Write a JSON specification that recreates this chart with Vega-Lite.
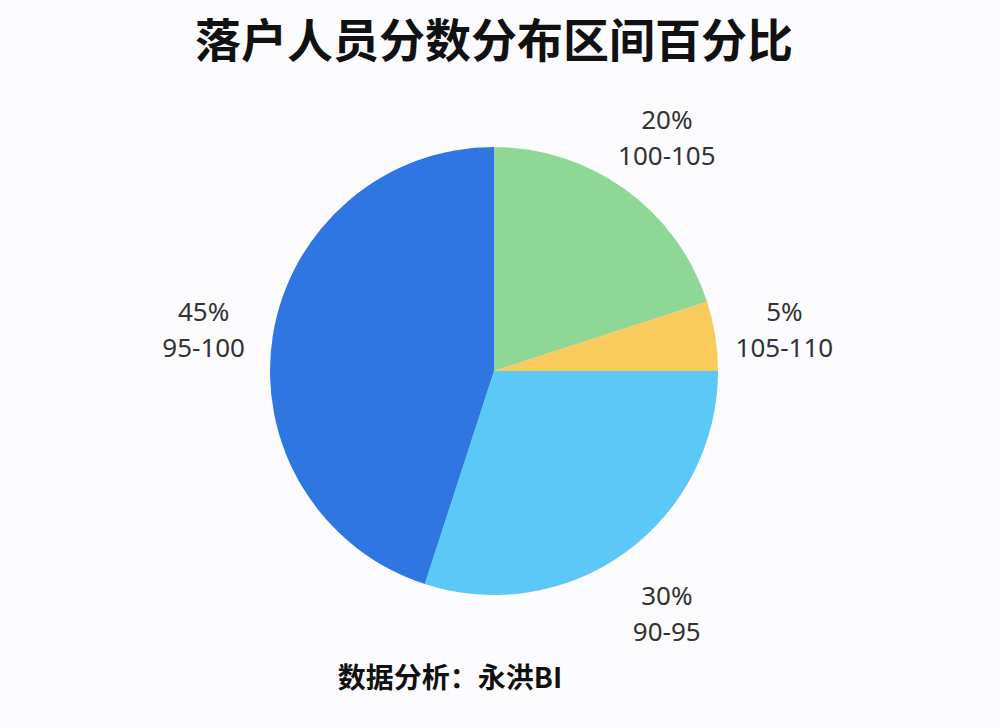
{
  "$schema": "https://vega.github.io/schema/vega-lite/v6.json",
  "background": "#FCFBFD",
  "padding": {"left": 0, "right": 12, "top": 20, "bottom": 40},
  "title": {
    "text": "落户人员分数分布区间百分比",
    "font": "Noto Sans CJK SC",
    "fontSize": 46,
    "fontWeight": "bold",
    "color": "#111111",
    "anchor": "middle",
    "offset": 24
  },
  "data": {
    "values": [
      {"range": "100-105", "pct": 20, "label": "20%\n100-105"},
      {"range": "105-110", "pct": 5, "label": "5%\n105-110"},
      {"range": "90-95", "pct": 30, "label": "30%\n90-95"},
      {"range": "95-100", "pct": 45, "label": "45%\n95-100"}
    ]
  },
  "vconcat": [
    {
      "width": 988,
      "height": 560,
      "title": {
        "text": "数据分析：永洪BI",
        "orient": "bottom",
        "anchor": "middle",
        "dx": -44,
        "offset": 15,
        "font": "Noto Sans CJK SC",
        "fontSize": 28,
        "fontWeight": "bold",
        "color": "#111111"
      },
      "encoding": {
        "theta": {"field": "pct", "type": "quantitative", "stack": true},
        "order": {"field": "range", "type": "nominal"}
      },
      "layer": [
        {
          "mark": {"type": "arc", "outerRadius": 224},
          "encoding": {
            "color": {
              "field": "range",
              "type": "nominal",
              "scale": {
                "domain": ["100-105", "105-110", "90-95", "95-100"],
                "range": ["#8ED796", "#F8CB5C", "#5CC8F8", "#2F76E3"]
              },
              "legend": null
            }
          }
        },
        {
          "mark": {
            "type": "text",
            "radius": 294,
            "dy": -12,
            "lineBreak": "\n",
            "lineHeight": 36,
            "font": "Noto Sans",
            "fontSize": 26,
            "align": "center",
            "baseline": "middle",
            "color": "#333333"
          },
          "encoding": {
            "text": {"field": "label", "type": "nominal"},
            "detail": {"field": "range", "type": "nominal"}
          }
        }
      ]
    }
  ],
  "config": {"view": {"stroke": null}}
}
